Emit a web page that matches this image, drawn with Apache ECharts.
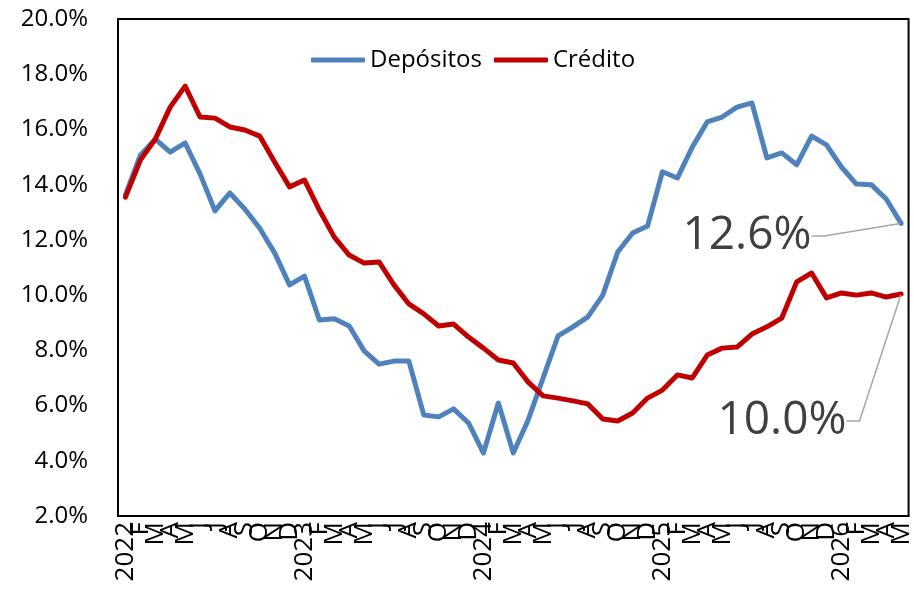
<!DOCTYPE html>
<html>
<head>
<meta charset="utf-8">
<script src="https://cdn.jsdelivr.net/npm/echarts@6/dist/echarts.min.js"></script>
<style>
  html, body { margin: 0; padding: 0; background: #fff; }
  #chart { width: 914px; height: 598px; }
</style>
</head>
<body>
<div id="chart"></div>
<script>
const years = ["2022", "2023", "2024", "2025", "2026"];
const monthLetters = ["", "F", "M", "A", "M", "J", "J", "A", "S", "O", "N", "D"];

// Jan 2022 .. May 2026, one label per month
const months = [];
for (let i = 0; i < 53; i++) {
  const m = i % 12;
  months.push(m === 0 ? years[i / 12] : monthLetters[m]);
}

const depositos = [
  13.63, 15.07, 15.65, 15.18, 15.51, 14.39, 13.05, 13.70, 13.12, 12.42, 11.53, 10.37,
  10.69, 9.10, 9.14, 8.88, 7.98, 7.50, 7.61, 7.61, 5.66, 5.59, 5.88, 5.37,
  4.28, 6.09, 4.28, 5.48, 7.00, 8.52, 8.85, 9.21, 10.00, 11.56, 12.25, 12.50,
  14.47, 14.24, 15.36, 16.27, 16.45, 16.81, 16.96, 14.97, 15.15, 14.72, 15.76, 15.44,
  14.64, 14.02, 14.00, 13.48, 12.60
];

const credito = [
  13.55, 14.89, 15.65, 16.81, 17.57, 16.45, 16.41, 16.09, 15.98, 15.76, 14.82, 13.92,
  14.17, 13.08, 12.10, 11.45, 11.16, 11.20, 10.37, 9.68, 9.32, 8.88, 8.95, 8.48,
  8.08, 7.65, 7.54, 6.85, 6.35, 6.27, 6.17, 6.06, 5.51, 5.44, 5.73, 6.27,
  6.56, 7.11, 7.00, 7.83, 8.08, 8.12, 8.59, 8.85, 9.17, 10.48, 10.80, 9.90,
  10.08, 10.00, 10.08, 9.93, 10.04
];

const FONT = "'Open Sans', 'Noto Sans', sans-serif";

function withEndLabel(values, color) {
  const last = values.length - 1;
  return values.map((v, i) => i === last
    ? { value: v, symbol: "circle", symbolSize: 2, itemStyle: { color }, label: { show: true } }
    : v);
}

function lineSeries(name, values, color, labelPos) {
  return {
    name,
    type: "line",
    data: withEndLabel(values, color),
    symbol: "none",
    showAllSymbol: true,
    lineStyle: { color, width: 5, join: "round", cap: "round" },
    itemStyle: { color },
    label: {
      show: false,
      formatter: (p) => p.value.toFixed(1) + "%",
      fontFamily: FONT,
      fontSize: 46,
      color: "#404040",
    },
    labelLine: {
      show: true,
      length2: 13,
      lineStyle: { color: "#a6a6a6", width: 1.5 },
    },
    labelLayout: (params) => (params.dataIndex === values.length - 1
      ? { x: labelPos[0], y: labelPos[1], align: "center", verticalAlign: "middle" }
      : {}),
    animation: false,
  };
}

const chart = echarts.init(document.getElementById("chart"));

chart.setOption({
  backgroundColor: "#fff",
  animation: false,
  grid: {
    left: 118,
    top: 19,
    right: -6,
    bottom: 82,
    show: true,
    borderColor: "#000",
    borderWidth: 2,
  },
  legend: {
    left: 306,
    top: 43,
    icon: "roundRect",
    itemWidth: 54,
    itemHeight: 5,
    itemGap: 12,
    textStyle: { fontFamily: FONT, fontSize: 24, color: "#000" },
    data: ["Depósitos", "Crédito"],
  },
  xAxis: {
    type: "category",
    data: months,
    boundaryGap: true,
    axisLine: { show: true, lineStyle: { color: "#000", width: 2 } },
    axisTick: { show: false },
    axisLabel: {
      interval: 0,
      rotate: 90,
      margin: 6,
      fontFamily: FONT,
      fontSize: 26,
      color: "#000",
    },
  },
  yAxis: {
    type: "value",
    min: 2,
    max: 20,
    interval: 2,
    splitLine: { show: false },
    axisLine: { show: true, lineStyle: { color: "#000", width: 2 } },
    axisTick: { show: false },
    axisLabel: {
      margin: 30,
      fontFamily: FONT,
      fontSize: 24,
      color: "#000",
      formatter: (v) => v.toFixed(1) + "%",
    },
  },
  series: [
    lineSeries("Depósitos", depositos, "#4f81bd", [747, 236]),
    lineSeries("Crédito", credito, "#c00000", [782, 421]),
  ],
});
</script>
</body>
</html>
